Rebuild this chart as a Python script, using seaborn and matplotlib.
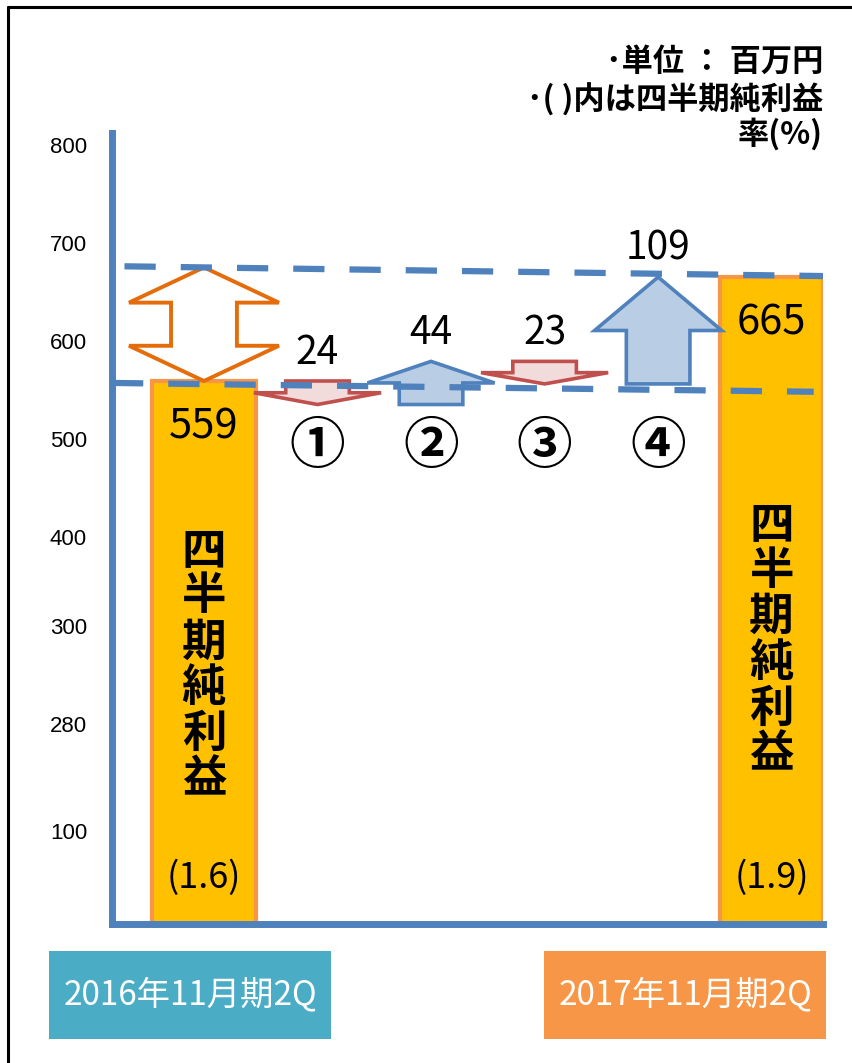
import numpy as np
import pandas as pd
import matplotlib
matplotlib.use("Agg")
import matplotlib.pyplot as plt
import seaborn as sns
from matplotlib.patches import Polygon, Rectangle

# values (unit: million yen)
bar_labels = ["2016年11月期2Q", "2017年11月期2Q"]
bar_values = [559, 665]
bar_ratios = ["(1.6)", "(1.9)"]
bar_title = "四半期純利益"
step_names = ["①", "②", "③", "④"]
step_values = [-24, 44, -23, 109]
ytick_values = [100, 209, 309, 400, 500, 600, 700, 800]
ytick_labels = ["100", "280", "300", "400", "500", "600", "700", "800"]
guide_upper = [676, 666]
guide_lower = [557, 548]
notes = ["･単位 ： 百万円", "･( )内は四半期純利益", "率(%)"]

CJK = ["Noto Sans CJK JP", "DejaVu Sans"]
BLUE = "#4F81BD"

sns.set_style("white")
plt.rcParams["font.family"] = ["Liberation Sans", "Noto Sans CJK JP", "DejaVu Sans"]
plt.rcParams["text.color"] = "black"
plt.rcParams["ytick.labelcolor"] = "black"


def block_arrow(x, y0, y1, shaft_hw, head_hw, head_len):
    d = np.sign(y1 - y0)
    yb = y1 - d * head_len
    return [(x - shaft_hw, y0), (x - shaft_hw, yb), (x - head_hw, yb), (x, y1),
            (x + head_hw, yb), (x + shaft_hw, yb), (x + shaft_hw, y0)]


def double_arrow(x, lo, hi, shaft_hw, head_hw, head_len):
    b1, b2 = lo + head_len, hi - head_len
    return [(x, lo), (x + head_hw, b1), (x + shaft_hw, b1), (x + shaft_hw, b2),
            (x + head_hw, b2), (x, hi), (x - head_hw, b2), (x - shaft_hw, b2),
            (x - shaft_hw, b1), (x - head_hw, b1)]


fig = plt.figure(figsize=(8.52, 10.63), dpi=100)

# pixel-space layer for the frame, the notes and the period boxes
deco = fig.add_axes([0, 0, 1, 1])
deco.set_xlim(0, 852)
deco.set_ylim(1063, 0)
deco.axis("off")
deco.plot([8, 8], [7, 1063], color="black", lw=2.2)
deco.plot([8, 852], [7, 7], color="black", lw=2.2)
for y, txt in zip([62, 100, 134], notes):
    deco.text(823, y, txt, ha="right", va="center", fontsize=22.5,
              fontweight="bold", family=CJK)
box_cols = ["#4BACC6", "#F79646"]
box_x = [49, 544]
for bx, col, lab in zip(box_x, box_cols, bar_labels):
    deco.add_patch(Rectangle((bx, 951), 282, 88, fc=col, ec="none"))
    deco.text(bx + 141, 995, lab, ha="center", va="center", fontsize=24,
              color="white", family=CJK)

ax = fig.add_axes([112 / 852, (1063 - 924) / 1063, (823 - 112) / 852, (924 - 133) / 1063])
ax.patch.set_alpha(0)

bar_x = [0, 5]
step_x = [1, 2, 3, 4]
levels = np.concatenate([[bar_values[0]], bar_values[0] + np.cumsum(step_values)])

df = pd.DataFrame({"x": bar_x, "value": bar_values})
sns.barplot(data=df, x="x", y="value", native_scale=True, width=0.91 / 5,
            color="#FFC000", saturation=1, edgecolor="#F79646", linewidth=3,
            ax=ax, zorder=1)

# gap between the two periods
hi = np.interp(0, [-0.7, 5.48], guide_upper)
lo = bar_values[0]
ax.add_patch(Polygon(double_arrow(0, lo, hi, 0.29, 0.66, 0.31 * (hi - lo)),
                     closed=True, fc="white", ec="#E46C0A", lw=2.8,
                     joinstyle="miter", zorder=2))

for i, (name, delta) in enumerate(zip(step_names, step_values)):
    x = step_x[i]
    y0, y1 = levels[i], levels[i + 1]
    if delta > 0:
        ec, fc = BLUE, "#B9CDE5"
    else:
        ec, fc = "#C0504D", "#F2DCDB"
    ax.add_patch(Polygon(block_arrow(x, y0, y1, 0.28, 0.56, 0.5 * abs(delta)),
                         closed=True, fc=fc, ec=ec, lw=2.6, joinstyle="miter", zorder=2))
    ax.annotate(str(abs(delta)), xy=(x, max(y0, y1)), xytext=(0, 6),
                textcoords="offset points", ha="center", va="bottom",
                fontsize=28, family=CJK, zorder=4)
    ax.text(x, 492, name, ha="center", va="center", fontsize=40,
            fontweight="bold", family=CJK, zorder=4)

# dashed guides
ax.plot([-0.7, 5.48], guide_upper, color=BLUE, lw=4.5, dashes=(5.0, 4.0), zorder=3)
ax.plot([-0.81, 5.37], guide_lower, color=BLUE, lw=4.5, dashes=(5.0, 4.0), zorder=3)

vtext_center = [269, 295]
for x, v, r, c in zip(bar_x, bar_values, bar_ratios, vtext_center):
    ax.annotate(str(v), xy=(x, v), xytext=(0, -33), textcoords="offset points",
                ha="center", va="center", fontsize=30, family=CJK, zorder=4)
    ax.text(x, 52, r, ha="center", va="center", fontsize=26, family=CJK, zorder=4)
    for k, ch in enumerate(bar_title):
        ax.annotate(ch, xy=(x, c), xytext=(0, (2.5 - k) * 33),
                    textcoords="offset points", ha="center", va="center",
                    fontsize=32, fontweight="bold", family=CJK, zorder=4)

ax.set_xlim(-0.81, 5.452)
ax.set_ylim(5, 812)
ax.set_xticks([])
ax.set_yticks(ytick_values, ytick_labels)
ax.tick_params(axis="y", direction="in", length=13, width=1.1, color=BLUE,
               labelcolor="black", pad=18, labelsize=16)
ax.set_xlabel("")
ax.set_ylabel("")
for s in ["top", "right"]:
    ax.spines[s].set_visible(False)
for s in ["left", "bottom"]:
    ax.spines[s].set_color(BLUE)
    ax.spines[s].set_linewidth(5)
    ax.spines[s].set_capstyle("projecting")

fig.savefig("out.png", dpi=100)
